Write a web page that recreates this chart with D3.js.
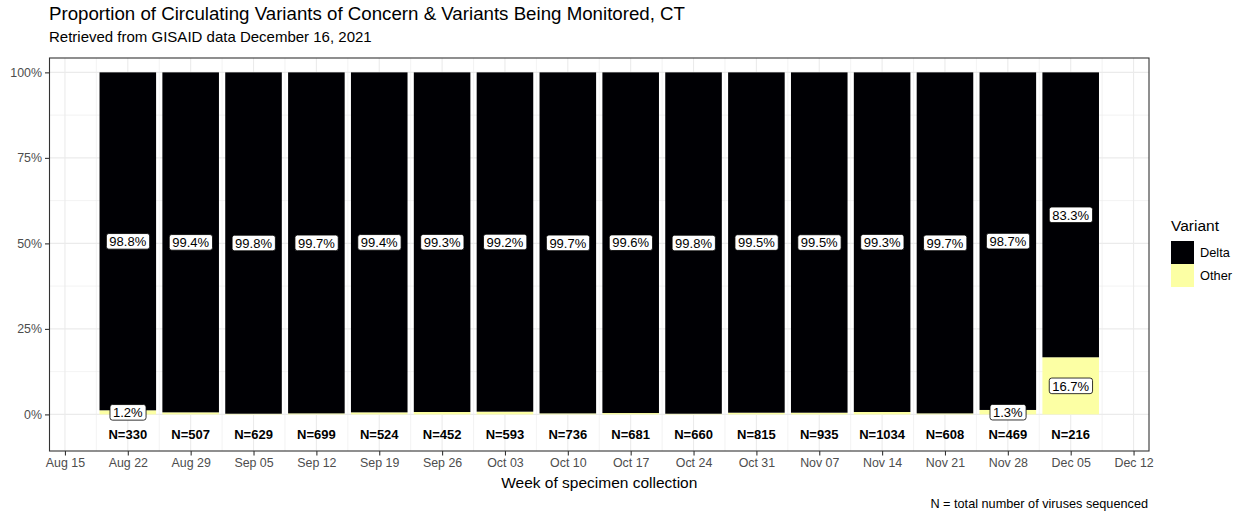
<!DOCTYPE html>
<html>
<head>
<meta charset="utf-8">
<script src="https://cdn.jsdelivr.net/npm/d3@7"></script>
<style>
  body { margin: 0; background: #fff; }
  text { font-family: "Liberation Sans", Arial, sans-serif; }
</style>
</head>
<body>
<script>
// data
var weeks = ["2021-08-22", "2021-08-29", "2021-09-05", "2021-09-12", "2021-09-19", "2021-09-26",
  "2021-10-03", "2021-10-10", "2021-10-17", "2021-10-24", "2021-10-31", "2021-11-07",
  "2021-11-14", "2021-11-21", "2021-11-28", "2021-12-05"];
var deltaPct = [98.8, 99.4, 99.8, 99.7, 99.4, 99.3, 99.2, 99.7, 99.6, 99.8, 99.5, 99.5, 99.3, 99.7, 98.7, 83.3];
var otherPct = [1.2, 0.6, 0.2, 0.3, 0.6, 0.7, 0.8, 0.3, 0.4, 0.2, 0.5, 0.5, 0.7, 0.3, 1.3, 16.7];
var totalN = [330, 507, 629, 699, 524, 452, 593, 736, 681, 660, 815, 935, 1034, 608, 469, 216];
var variants = ["Delta", "Other"];
var colors = ["#000004", "#FCFFA4"];
var yTicks = [0, 0.25, 0.5, 0.75, 1];

var W = 1245, H = 514;
// panel edges (window.top is reserved, so no "top" here)
var pLeft = 49.5, pRight = 1149, pTop = 58, pBottom = 451;
var parse = d3.timeParse("%Y-%m-%d");
var day = 864e5;

var svg = d3.select("body").append("svg")
  .attr("width", W).attr("height", H);

var x = d3.scaleTime()
  .domain([new Date(parse("2021-08-15").getTime() - 1.72 * day), new Date(parse("2021-12-12").getTime() + 1.72 * day)])
  .range([pLeft, pRight]);
var y = d3.scaleLinear().domain([-0.107, 1.042]).range([pBottom, pTop]);
var color = d3.scaleOrdinal().domain(variants).range(colors);

// grid
var xMajor = d3.timeWeek.range(parse("2021-08-15"), parse("2021-12-13"));
var xMinor = xMajor.slice(0, -1).map(function(d) { return new Date(d.getTime() + 3.5 * day); });
xMinor.unshift(new Date(xMajor[0].getTime() - 3.5 * day));
xMinor.push(new Date(xMajor[xMajor.length - 1].getTime() + 3.5 * day));
var yMinor = [0.125, 0.375, 0.625, 0.875];

var grid = svg.append("g");
grid.selectAll(".ymin").data(yMinor).enter().append("line")
  .attr("x1", pLeft).attr("x2", pRight)
  .attr("y1", function(d) { return y(d); }).attr("y2", function(d) { return y(d); })
  .attr("stroke", "#ebebeb").attr("stroke-width", 0.6);
grid.selectAll(".xmin").data(xMinor.filter(function(d) { return x(d) > pLeft && x(d) < pRight; })).enter().append("line")
  .attr("y1", pTop).attr("y2", pBottom)
  .attr("x1", function(d) { return x(d); }).attr("x2", function(d) { return x(d); })
  .attr("stroke", "#ebebeb").attr("stroke-width", 0.6);
grid.selectAll(".ymaj").data(yTicks).enter().append("line")
  .attr("x1", pLeft).attr("x2", pRight)
  .attr("y1", function(d) { return y(d); }).attr("y2", function(d) { return y(d); })
  .attr("stroke", "#ebebeb").attr("stroke-width", 1.1);
grid.selectAll(".xmaj").data(xMajor).enter().append("line")
  .attr("y1", pTop).attr("y2", pBottom)
  .attr("x1", function(d) { return x(d); }).attr("x2", function(d) { return x(d); })
  .attr("stroke", "#ebebeb").attr("stroke-width", 1.1);

// stacked bars
var rows = weeks.map(function(w, i) {
  return { date: parse(w), Delta: deltaPct[i] / 100, Other: otherPct[i] / 100, n: totalN[i] };
});
var stack = d3.stack().keys(["Other", "Delta"])(rows);
// Other sits at bottom, Delta on top
var bw = (x(parse("2021-08-29")) - x(parse("2021-08-22"))) * 0.9;

var layers = svg.append("g").selectAll("g").data(stack).enter().append("g")
  .attr("fill", function(d) { return color(d.key); });
layers.selectAll("rect").data(function(d) { return d; }).enter().append("rect")
  .attr("x", function(d) { return x(d.data.date) - bw / 2; })
  .attr("width", bw)
  .attr("y", function(d) { return y(d[1]); })
  .attr("height", function(d) { return y(d[0]) - y(d[1]); });

// percent labels (only shares of 1% or more get one)
var labels = [];
stack.forEach(function(s) {
  s.forEach(function(d) {
    var v = d.data[s.key];
    if (v >= 0.01) labels.push({ date: d.data.date, mid: (d[0] + d[1]) / 2, text: d3.format(".1f")(v * 100) + "%" });
  });
});
var lab = svg.append("g").selectAll("g").data(labels).enter().append("g")
  .attr("transform", function(d) { return "translate(" + x(d.date) + "," + y(d.mid) + ")"; });
lab.append("text")
  .attr("text-anchor", "middle").attr("dy", "0.36em")
  .attr("font-size", 13).attr("fill", "#000")
  .text(function(d) { return d.text; });
lab.each(function() {
  var g = d3.select(this), b = g.select("text").node().getBBox();
  g.insert("rect", "text")
    .attr("x", b.x - 3).attr("y", -7.8)
    .attr("width", b.width + 6).attr("height", 15.6)
    .attr("rx", 2.5).attr("fill", "#fff").attr("stroke", "#000").attr("stroke-width", 0.8);
});

// N labels
svg.append("g").selectAll("text").data(rows).enter().append("text")
  .attr("x", function(d) { return x(d.date); })
  .attr("y", y(-0.057)).attr("dy", "0.36em")
  .attr("text-anchor", "middle").attr("font-size", 13).attr("font-weight", "bold")
  .attr("fill", "#000")
  .text(function(d) { return "N=" + d.n; });

// panel border
svg.append("rect").attr("x", pLeft).attr("y", pTop)
  .attr("width", pRight - pLeft).attr("height", pBottom - pTop)
  .attr("fill", "none").attr("stroke", "#333333").attr("stroke-width", 1.1);

// axes
var xAxis = svg.append("g").attr("transform", "translate(0," + pBottom + ")")
  .call(d3.axisBottom(x).tickValues(xMajor).tickFormat(d3.timeFormat("%b %d")).tickSize(4.5).tickPadding(3));
var yAxis = svg.append("g").attr("transform", "translate(" + pLeft + ",0)")
  .call(d3.axisLeft(y).tickValues(yTicks).tickFormat(d3.format(".0%")).tickSize(4.5).tickPadding(3));
[xAxis, yAxis].forEach(function(a) {
  a.select(".domain").remove();
  a.selectAll(".tick line").attr("stroke", "#333333").attr("stroke-width", 1.1);
  a.selectAll(".tick text").attr("fill", "#4d4d4d").attr("font-size", 12.4)
    .attr("font-family", "'Liberation Sans', Arial, sans-serif");
});

// titles
svg.append("text").attr("x", 49).attr("y", 20).attr("font-size", 18.7).attr("fill", "#000")
  .text("Proportion of Circulating Variants of Concern & Variants Being Monitored, CT");
svg.append("text").attr("x", 49).attr("y", 42).attr("font-size", 15).attr("fill", "#000")
  .text("Retrieved from GISAID data December 16, 2021");
svg.append("text").attr("x", (pLeft + pRight) / 2).attr("y", 488).attr("text-anchor", "middle")
  .attr("font-size", 15.5).attr("fill", "#000").text("Week of specimen collection");
svg.append("text").attr("x", 1148).attr("y", 508).attr("text-anchor", "end")
  .attr("font-size", 12.7).attr("fill", "#000").text("N = total number of viruses sequenced");

// legend
var leg = svg.append("g").attr("transform", "translate(1171,0)");
leg.append("text").attr("x", 0).attr("y", 231).attr("font-size", 15.5).attr("fill", "#000").text("Variant");
leg.selectAll("rect").data(variants).enter().append("rect")
  .attr("x", 0).attr("y", function(d, i) { return 241 + i * 23; })
  .attr("width", 23).attr("height", 23)
  .attr("fill", function(d) { return color(d); });
leg.selectAll(".lt").data(variants).enter().append("text")
  .attr("x", 29).attr("y", function(d, i) { return 252.5 + i * 23; }).attr("dy", "0.36em")
  .attr("font-size", 12.8).attr("fill", "#000").text(function(d) { return d; });
</script>
</body>
</html>
